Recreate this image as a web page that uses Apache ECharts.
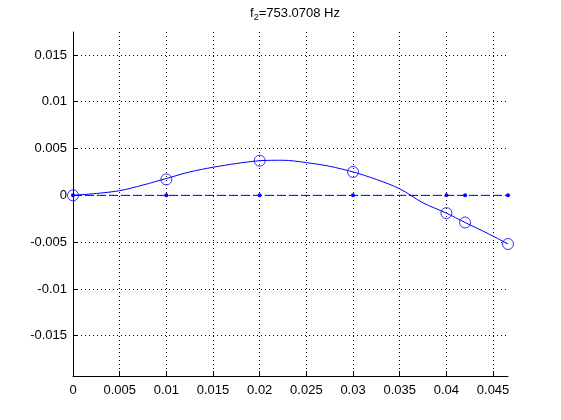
<!DOCTYPE html>
<html><head><meta charset="utf-8">
<script src="https://cdn.jsdelivr.net/npm/echarts@6/dist/echarts.min.js"></script>
<style>html,body{margin:0;padding:0;background:#fff}#c{width:561px;height:420px}</style>
</head><body><div id="c"></div>
<script>
// Sample positions (x)
const nodeX = [0, 0.01, 0.02, 0.03, 0.04, 0.042, 0.0466];
// Mode shape values at the nodes (circles)
const nodeY = [0, 0.0017, 0.0037, 0.0025, -0.0019, -0.0029, -0.0052];
// Undeformed reference (dashed line, dot markers)
const baseY = [0, 0, 0, 0, 0, 0, 0];
// Smooth curve samples
const curveX = [0, 0.0025, 0.005, 0.0075, 0.01, 0.0125, 0.015, 0.0175, 0.02, 0.0225, 0.025, 0.0275, 0.03, 0.0325, 0.035, 0.0375, 0.04, 0.042, 0.0445, 0.0466];
const curveY = [0, 0.0002, 0.0005, 0.0011, 0.0018, 0.0025, 0.0030, 0.0034, 0.0037, 0.00375, 0.0035, 0.0031, 0.0025, 0.0017, 0.0007, -0.0008, -0.0019, -0.0029, -0.0041, -0.0052];
const xTicks = [0, 0.005, 0.01, 0.015, 0.02, 0.025, 0.03, 0.035, 0.04, 0.045];
const yTicks = [-0.015, -0.01, -0.005, 0, 0.005, 0.01, 0.015];
const titleText = 'f{s|2}=753.0708 Hz';

const zip = (a, b) => a.map((v, i) => [v, b[i]]);
const font = '"Liberation Sans", Arial, sans-serif';
const blue = '#0000ff';
const fmt = v => String(+(+v).toFixed(4));
const chart = echarts.init(document.getElementById('c'), null, {renderer: 'canvas'});
chart.setOption({
  animation: false,
  backgroundColor: '#fff',
  title: {
    text: titleText, left: 290, top: 0, textAlign: 'center',
    textStyle: {fontFamily: font, fontSize: 13, fontWeight: 'normal', color: '#000',
      rich: {s: {fontFamily: font, fontSize: 9, verticalAlign: 'bottom', padding: [8, 0, 0, 0]}}}
  },
  grid: {left: 73, right: 53, top: 32, bottom: 44},
  xAxis: {
    type: 'value', min: 0, max: 0.0466,
    axisLine: {onZero: false, lineStyle: {color: '#000', width: 1}},
    axisTick: {inside: true, length: 5, customValues: xTicks, lineStyle: {color: '#000'}},
    axisLabel: {fontFamily: font, fontSize: 13, color: '#000', margin: 8, customValues: xTicks, formatter: fmt},
    splitLine: {show: true, lineStyle: {color: '#000', type: [1, 3], width: 1}}
  },
  yAxis: {
    type: 'value', min: -0.0193, max: 0.01745,
    axisLine: {show: true, onZero: false, lineStyle: {color: '#000', width: 1}},
    axisTick: {show: true, inside: true, length: 5, customValues: yTicks, lineStyle: {color: '#000'}},
    axisLabel: {fontFamily: font, fontSize: 13, color: '#000', margin: 6, customValues: yTicks, formatter: fmt},
    splitLine: {show: true, lineStyle: {color: '#000', type: [1, 3], width: 1}}
  },
  series: [
    {type: 'line', data: zip(nodeX, baseY), symbol: 'circle', symbolSize: 4,
      itemStyle: {color: blue}, lineStyle: {color: blue, width: 1, type: [8, 4]}, z: 3},
    {type: 'line', data: zip(curveX, curveY), smooth: 0.3, showSymbol: false, symbol: 'none',
      lineStyle: {color: blue, width: 1}, z: 4},
    {type: 'scatter', data: zip(nodeX, nodeY), symbol: 'circle', symbolSize: 11,
      itemStyle: {color: 'rgba(0,0,0,0)', borderColor: blue, borderWidth: 1}, z: 5}
  ]
});
</script></body></html>
